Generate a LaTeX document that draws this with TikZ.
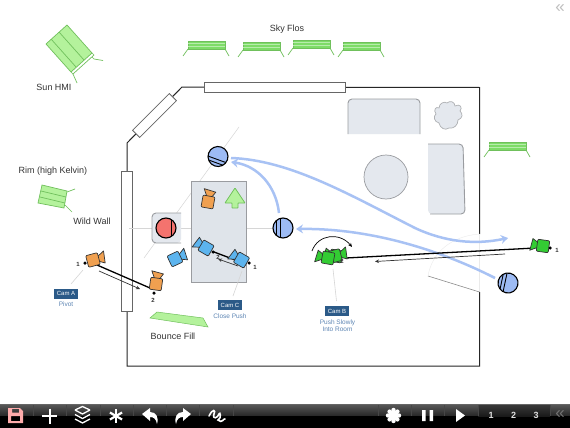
\documentclass[tikz,border=0pt]{standalone}
\usepackage{fontspec}
\setmainfont{Liberation Sans}
\usetikzlibrary{arrows.meta,shapes.geometric,calc}
\definecolor{litegreen}{HTML}{B4F29C}
\definecolor{litegreenline}{HTML}{70C05C}
\definecolor{flogreen}{HTML}{7EDC68}
\definecolor{furn}{HTML}{E4E8EE}
\definecolor{furnline}{HTML}{9A9CA0}
\definecolor{rugfill}{HTML}{DFE4EA}
\definecolor{pathblue}{HTML}{A8C2F4}
\definecolor{actorblue}{HTML}{9DBBF4}
\definecolor{actorred}{HTML}{F4736E}
\definecolor{camorange}{HTML}{F0A050}
\definecolor{camblue}{HTML}{5CB4EE}
\definecolor{camgreen}{HTML}{33CC33}
\definecolor{tagblue}{HTML}{2B5A88}
\definecolor{notecol}{HTML}{5E86B4}
\definecolor{labelcol}{HTML}{333333}
\definecolor{guide}{HTML}{D6D6D6}
\tikzset{
  x=1pt,y=-1pt,
  lbl/.style={font=\fontsize{9}{10}\selectfont,text=labelcol,inner sep=0pt},
  numlbl/.style={font=\bfseries\fontsize{6}{6}\selectfont,text=labelcol,inner sep=0pt},
  tag/.style={fill=tagblue,text=white,font=\fontsize{6}{6}\selectfont,minimum width=24pt,minimum height=10pt,inner sep=0pt},
  note/.style={text=notecol,font=\fontsize{6.5}{7}\selectfont,inner sep=0pt,align=center},
  wallline/.style={draw=black!85,line width=1pt},
  winbox/.style={draw=black!60,fill=white,line width=.8pt},
  furniture/.style={draw=furnline,fill=furn,line width=.7pt},
  leader/.style={draw=guide,line width=.6pt},
  campath/.style={draw=black,line width=1.3pt},
  camnote/.style={draw=black!80,line width=.7pt,-{Stealth[length=4pt,width=3.5pt]}},
  blockpath/.style={draw=pathblue,line width=2.5pt,-{Stealth[length=7pt,width=9pt]}},
  dotnode/.style={circle,fill=black,inner sep=0pt,minimum size=3.5pt},
  tool/.style={white,line width=2pt},
  toolnum/.style={text=white!88!black,font=\bfseries\fontsize{9}{9}\selectfont,inner sep=0pt},
  cam/.pic={
    \path[draw=black!80,fill=#1,line width=.7pt,line join=round]
      (4,-1.5) -- (12.5,-6) -- (11,6) -- (4,2) -- cycle;
    \path[draw=black!80,fill=#1,line width=.7pt,rounded corners=1pt]
      (-6,-6) rectangle (6,6);
  },
  flo/.pic={
    \path[draw=litegreenline,fill=flogreen,line width=.5pt] (0,0) rectangle (37,8);
    \foreach \yy in {2.7,5.3} \draw[white!45!flogreen,line width=.8pt] (0,\yy) -- (37,\yy);
    \draw[litegreenline,line width=.7pt] (0,8) -- (-5,15) (37,8) -- (41,15);
  },
  actor/.pic={
    \path[draw=black,fill=#1,line width=1.1pt] (0,0) circle (10);
    \begin{scope}
      \clip (0,0) circle (10);
      \draw[black,line width=.9pt] (-3,-12) -- (-3,12) (-6.5,-12) -- (-6.5,12);
    \end{scope}
  },
}
\begin{document}
\begin{tikzpicture}
\useasboundingbox (0,0) rectangle (570,428);
\fill[white] (0,0) rectangle (570,428);

% room walls
\coordinate (wA) at (127,311);
\coordinate (wB) at (127,143);
\coordinate (wC) at (182,87);
\coordinate (wD) at (479.5,87.5);
\coordinate (wE) at (479.5,234);
\coordinate (wF) at (479.5,292);
\coordinate (wG) at (479.5,366);
\coordinate (wH) at (127,366);
\draw[wallline] (wE) -- (wD) -- (wC) -- (wB) -- (wA) -- (wH) -- (wG) -- (wF);
\draw[draw=guide!50,line width=.4pt] (wE) -- (wF);
% door
\coordinate (doorhinge) at (428,276);
\draw[draw=black!45,line width=.6pt] (doorhinge) -- (wF);
\draw[draw=guide!50,line width=.4pt] (doorhinge) .. controls (432,252) and (452,236) .. (wE);

% windows
\node[winbox,minimum width=141pt,minimum height=10pt,inner sep=0pt] (wintop) at (275,87) {};
\node[winbox,minimum width=10.5pt,minimum height=140pt,inner sep=0pt] (winleft) at (127,241) {};
\node[winbox,minimum width=52pt,minimum height=10pt,inner sep=0pt,rotate=45] (windiag) at (154.5,115.5) {};

% furniture
\path[fill=furn] (348,134) -- (348,104) [rounded corners=4pt] -- (348,99) -- (420,99) [sharp corners] -- (420,134) -- cycle;
\draw[furnline,line width=.9pt,rounded corners=4pt] (348,134) -- (348,99) -- (420,99) -- (420,134);
\path[fill=furn,rounded corners=4pt] (428,144) -- (463,144) -- (465,214) -- (428,214) [sharp corners] -- cycle;
\draw[furnline,line width=.9pt,rounded corners=4pt] (428,144) -- (463,144) -- (465,214) -- (430,214);
\node[furniture,circle,minimum size=44pt,inner sep=0pt] (roundtable) at (386,177) {};
\path[furniture,draw=furnline!80] (447,103)
  .. controls (450,100) and (455,102) .. (455,106)
  .. controls (460,103) and (463,108) .. (460,111)
  .. controls (463,114) and (463,118) .. (458,120)
  .. controls (458,125) and (454,129) .. (449,128)
  .. controls (445,131) and (440,128) .. (439,123)
  .. controls (434,122) and (433,116) .. (436,114)
  .. controls (433,110) and (436,106) .. (439,108)
  .. controls (439,103) and (445,101) .. (447,103) -- cycle;

% guide lines
\coordinate (gd1) at (239,127);
\coordinate (gd2) at (144,258);
\coordinate (gh1) at (129,228.5);
\draw[leader,line width=.5pt] (gd1) -- (gd2);
\draw[leader,line width=.5pt] (gh1) -- (283,228.5);

% rug and chair
\node[draw=furnline,fill=rugfill,line width=.8pt,minimum width=55pt,minimum height=101pt,inner sep=0pt] (rug) at (218.5,231.5) {};
\path[fill=furn,rounded corners=4pt] (181,213) -- (152,213) -- (152,243) -- (181,243) [sharp corners] -- cycle;
\draw[furnline,line width=.9pt,rounded corners=4pt] (181,213) -- (152,213) -- (152,243) -- (181,243);

% lights
\path[draw=litegreenline,fill=litegreen,line width=.7pt] (67,25) -- (92,53) -- (71,72) -- (46,44) -- cycle;
\draw[litegreenline,line width=.7pt] (59,32) -- (84,60) (51,39) -- (76,67);
\draw[litegreenline,line width=.7pt] (92,53) -- (94,55) -- (73,74) -- (71,72);
\draw[litegreenline,line width=.7pt] (92,57) -- (94,59) -- (103,60.5) (73,74) -- (77,83);
\path[draw=litegreenline,fill=litegreen,line width=.7pt] (42,185) -- (67,191) -- (64,208) -- (38,203) -- cycle;
\draw[litegreenline,line width=.7pt] (41,191) -- (66,197) (40,197) -- (65,203);
\draw[litegreenline,line width=.7pt] (67,192) -- (75,189) (65,205) -- (72,212);
\pic at (188,41) {flo};
\pic at (243,42) {flo};
\pic at (293,40) {flo};
\pic at (343,42) {flo};
\pic at (489,142) {flo};
\path[draw=litegreenline,fill=litegreen,line width=.5pt] (157,312) -- (203,318) -- (208,327) -- (150,318) -- cycle;
\path[draw=litegreenline,fill=litegreen,line width=.8pt,line join=round,rounded corners=.5pt]
  (235,188) -- (245,203) -- (238,203) -- (238,208) -- (232,208) -- (232,203) -- (225,203) -- cycle;

% actors
\node[inner sep=0pt,minimum size=20pt,circle] (actTop) at (218,156.5) {};
\node[inner sep=0pt,minimum size=20pt,circle] (actMid) at (283,228) {};
\node[inner sep=0pt,minimum size=20pt,circle] (actRight) at (508,283) {};
\node[inner sep=0pt,minimum size=20pt,circle] (actRed) at (166,228) {};
\coordinate (pathEnd) at (508,238);

% blocking paths
\draw[blockpath] (495,278) .. controls (440,250) and (370,228) .. (296,229);
\draw[blockpath] (279,213) .. controls (276,186) and (258,166) .. (231,162);
\draw[blockpath] (231,158) .. controls (290,160) and (350,195) .. (415,228) .. controls (445,242) and (475,245) .. (pathEnd);

\pic[rotate=70] at (actTop) {actor=actorblue};
\pic at (actMid) {actor=actorblue};
\pic[rotate=-12] at (actRight) {actor=actorblue};
\path[draw=black,fill=actorred,line width=1.1pt] (actRed) circle (10);
\begin{scope}
  \clip (actRed) circle (10);
  \draw[black,line width=.8pt] (171,216) -- (171,240);
\end{scope}

% camera A
\coordinate (a1) at (97,265);
\coordinate (a2) at (150,288);
\draw[campath] (a1) -- (a2);
\coordinate (a1n) at (99,271);
\coordinate (a2n) at (140,289);
\draw[camnote] (a1n) -- (a2n);
\pic[rotate=15] at (93,260) {cam=camorange};
\pic[rotate=82] at (156,284) {cam=camorange};
\node[dotnode] (a1dot) at (85,263) {};
\node[dotnode] (a2dot) at (154,293) {};
\node[numlbl] (a1num) at (78,264.5) {1};
\node[numlbl] (a2num) at (153,300) {2};
\coordinate (aleadS) at (83,270);
\node[tag] (tagA) at (66,293.5) {Cam A};
\draw[leader] (aleadS) -- (71,284);
\node[note] (noteA) at (66,304.5) {Pivot};

% camera on rug
\pic[rotate=80] at (208,202) {cam=camorange};

% camera C
\pic[rotate=25] at (175,259) {cam=camblue};
\coordinate (c1) at (238,261);
\coordinate (c2) at (214,252);
\draw[campath] (c1) -- (c2);
\coordinate (c1n) at (238,266);
\coordinate (c2n) at (218,259);
\draw[camnote] (c1n) -- (c2n);
\pic[rotate=150] at (206,248) {cam=camblue};
\pic[rotate=150] at (241.5,260) {cam=camblue};
\node[dotnode] (c1dot) at (249,263) {};
\node[dotnode] (c2dot) at (213,252) {};
\node[numlbl] (c1num) at (255,267) {1};
\node[numlbl] (c2num) at (218,257) {2};
\coordinate (cleadS) at (242,271);
\node[tag] (tagC) at (230,305) {Cam C};
\draw[leader] (cleadS) -- (233,296);
\node[note] (noteC) at (230,316) {Close Push};

% camera B
\coordinate (b1) at (535,248);
\coordinate (b2) at (346,258);
\draw[campath] (b1) -- (b2);
\coordinate (b1n) at (505,254);
\coordinate (b2n) at (375,261.5);
\draw[camnote] (b1n) -- (b2n);
\pic[rotate=170] at (336,256) {cam=camgreen};
\pic[rotate=15] at (335,256) {cam=camgreen};
\pic[rotate=170] at (328,258) {cam=camgreen};
\pic[rotate=172] at (543,246) {cam=camgreen};
\node[dotnode] (b1dot) at (550,248) {};
\node[numlbl] (b1num) at (557,250) {1};
\node[numlbl] (b2num) at (342,261) {2};
\coordinate (arcS) at (312,251);
\coordinate (arcE) at (352,247);
\draw[draw=black,line width=.7pt,-{Stealth[length=4pt,width=3.5pt]}] (arcS) .. controls (318,234) and (340,232) .. (arcE);
\coordinate (bleadS) at (333,269);
\node[tag] (tagB) at (337,311) {Cam B};
\draw[leader] (bleadS) -- (336.5,301);
\node[note] (noteB) at (337.5,325.5) {Push Slowly\\ Into Room};

% labels
\node[lbl] (skyflos) at (287,29) {Sky Flos};
\node[lbl] (sunhmi) at (54,87) {Sun HMI};
\node[lbl] (rimlbl) at (53,171) {Rim (high Kelvin)};
\node[lbl] (wildwall) at (92,221) {Wild Wall};
\node[lbl] (bouncefill) at (173,336.5) {Bounce Fill};

% collapse control, top right
\node[inner sep=0pt,text=black!25,font=\fontsize{17}{17}\selectfont] (collapseTop) at (560,8.5) {«};

% toolbar
\fill[top color=black!65,bottom color=black!85] (0,404) rectangle (570,416);
\fill[black] (0,416) rectangle (570,428);
\fill[black!60] (0,404) rectangle (570,405);
\fill[top color=black!78,bottom color=black!90] (478,405) rectangle (550,416);
\foreach \xx in {33,66,100,133,166,199,233,378,411,444,478,550}
  \draw[black!72,line width=.3pt] (\xx,405) -- (\xx,416);
% save
\path[fill=pink!85!red!90!white,even odd rule] (8,408) -- (20,408) -- (23,411) -- (23,423) -- (8,423) -- cycle
  (11,416) rectangle (20,421) (12,408.8) rectangle (19,412.5);
% plus
\draw[tool] (42,416) -- (57,416) (49.5,408.5) -- (49.5,423.5);
% layers
\foreach \yy in {0,4.5,9}
  \draw[white,line width=1.3pt,line join=round] (75,410+\yy) -- (82.5,414+\yy) -- (90,410+\yy);
\draw[white,line width=1.3pt,line join=round] (75,410) -- (82.5,406.5) -- (90,410);
% asterisk
\foreach \aa in {90,30,-30}
  \draw[tool,line width=2.2pt] ($(116,416)+(\aa:7)$) -- ($(116,416)+(\aa+180:7)$);
% undo
\fill[white] (142,414) -- (150,408) -- (150,412) .. controls (156,412) and (159,417) .. (157,424)
  .. controls (156,419) and (154,417) .. (150,417) -- (150,421) -- cycle;
% redo
\fill[white] (191,414) -- (183,408) -- (183,412) .. controls (177,412) and (174,417) .. (176,424)
  .. controls (177,419) and (179,417) .. (183,417) -- (183,421) -- cycle;
% squiggle
\draw[white,line width=1.6pt,line cap=round] (209,416) .. controls (213,408) and (216,410) .. (214,414)
  .. controls (212,420) and (218,418) .. (219,414) .. controls (220,411) and (222,418) .. (218,420)
  .. controls (222,424) and (224,418) .. (225,419);
% gear
\fill[white] (393.5,415.5) circle (5.5);
\foreach \aa in {0,45,...,315}
  \fill[white] ($(393.5,415.5)+(\aa:5.5)$) circle (2.2);
% pause
\fill[white] (422,410) rectangle (425.5,421) (429.5,410) rectangle (433,421);
% play
\fill[white] (456,409) -- (465,415.5) -- (456,422) -- cycle;
% numbers
\node[toolnum] (t1) at (491,415.5) {1};
\node[toolnum] (t2) at (513.5,415.5) {2};
\node[toolnum] (t3) at (536,415.5) {3};
\node[inner sep=0pt,text=black!55,font=\fontsize{17}{17}\selectfont] (collapseBar) at (560,414.5) {«};
\end{tikzpicture}
\end{document}
